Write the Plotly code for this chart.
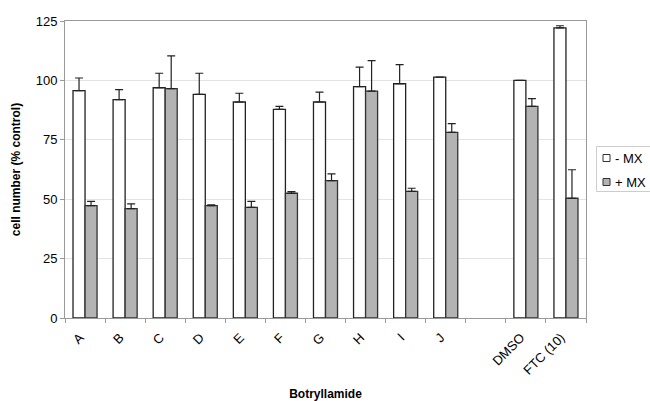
import plotly.graph_objects as go

categories = ["A", "B", "C", "D", "E", "F", "G", "H", "I", "J", " ", "DMSO", "FTC (10)"]
minus_mx = [95.7, 91.9, 96.9, 94.1, 90.9, 87.8, 90.9, 97.4, 98.6, 101.4, None, 100.0, 122.1]
minus_mx_err = [5.3, 4.2, 6.1, 8.9, 3.7, 1.3, 4.2, 8.2, 8.0, 0, None, 0, 0.9]
plus_mx = [47.3, 46.0, 96.5, 47.3, 46.6, 52.5, 57.8, 95.5, 53.3, 78.1, None, 89.1, 50.4]
plus_mx_err = [1.8, 2.0, 13.8, 0.3, 2.5, 0.7, 2.9, 12.8, 1.3, 3.7, None, 3.2, 12.0]
series_names = ["- MX", "+ MX"]
series_fill = ["white", "#b3b3b3"]

font_family = "Arial, Liberation Sans, sans-serif"

fig = go.Figure()
fig.add_trace(go.Bar(
    x=categories, y=minus_mx, name=series_names[0],
    marker=dict(color=series_fill[0], line=dict(color="#222222", width=1.3)),
    error_y=dict(type="data", array=minus_mx_err, arrayminus=[0]*len(categories),
                 symmetric=False, color="#222222", thickness=1.2, width=4),
))
fig.add_trace(go.Bar(
    x=categories, y=plus_mx, name=series_names[1],
    marker=dict(color=series_fill[1], line=dict(color="#333333", width=1.3)),
    error_y=dict(type="data", array=plus_mx_err, arrayminus=[0]*len(categories),
                 symmetric=False, color="#222222", thickness=1.2, width=4),
))

W, H = 650, 401
ML, MR, MT, MB = 65, 64, 21, 83

def px_x(p):
    return (p - ML) / (W - ML - MR)

def px_y(p):
    return 1 - (p - MT) / (H - MT - MB)

# custom legend (box, swatches, labels) in paper coords
shapes = [dict(type="rect", xref="paper", yref="paper",
               x0=px_x(596.5), x1=px_x(660), y0=px_y(191.5), y1=px_y(146.5),
               line=dict(color="#cccccc", width=1), fillcolor="white")]
annotations = []
for i, (nm, fc) in enumerate(zip(series_names, series_fill)):
    cy = 158 + i * 24
    shapes.append(dict(type="rect", xref="paper", yref="paper",
                       x0=px_x(603), x1=px_x(610), y0=px_y(cy + 3.5), y1=px_y(cy - 3.5),
                       line=dict(color="#333333", width=1), fillcolor=fc))
    annotations.append(dict(xref="paper", yref="paper", x=px_x(613), y=px_y(cy),
                            xanchor="left", yanchor="middle", text=nm, showarrow=False,
                            font=dict(size=13, family=font_family, color="black")))

fig.update_layout(
    width=W, height=H,
    margin=dict(l=ML, r=MR, t=MT, b=MB, autoexpand=False),
    paper_bgcolor="white", plot_bgcolor="white",
    barmode="group", bargap=0.4, bargroupgap=0,
    font=dict(family=font_family, size=12, color="black"),
    showlegend=False,
    shapes=shapes,
    annotations=annotations,
    xaxis=dict(
        type="category", tickangle=-45, tickson="boundaries",
        ticks="outside", ticklen=4, tickcolor="#999999",
        showline=True, linecolor="#999999", linewidth=1, mirror=True,
        showgrid=False, automargin=False,
        tickfont=dict(size=13),
        ticklabelstandoff=6, ticklabelshift=-5,
        title=dict(text="<b>Botryllamide</b>", font=dict(size=12), standoff=15),
    ),
    yaxis=dict(
        range=[0, 125], tickvals=[0, 25, 50, 75, 100, 125],
        ticks="outside", ticklen=4, tickcolor="#999999",
        showline=True, linecolor="#999999", linewidth=1, mirror=True,
        showgrid=True, gridcolor="#e3e3e3", gridwidth=1,
        zeroline=False, automargin=False,
        tickfont=dict(size=13),
        title=dict(text="<b>cell number (% control)</b>", font=dict(size=12), standoff=12),
    ),
)

fig.write_html("out.html")
